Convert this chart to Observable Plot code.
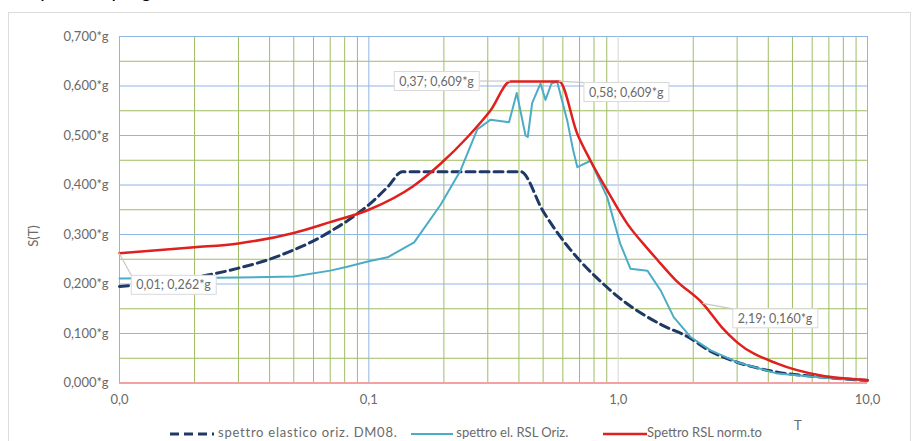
<!DOCTYPE html>
<html><head><meta charset="utf-8">
<script src="https://cdn.jsdelivr.net/npm/d3@7"></script>
<script src="https://cdn.jsdelivr.net/npm/@observablehq/plot@0.6"></script>
<style>
body{margin:0;background:#fff;font-family:Lato,"Open Sans",sans-serif;}
#wrap{position:relative;width:913px;height:441px;overflow:hidden;}
#frame{position:absolute;left:8px;top:12px;width:903px;height:440px;border:1px solid #dcdcdc;box-sizing:border-box;}
#toptext{position:absolute;left:27px;top:-20px;font:20px "Liberation Sans",Arial,sans-serif;line-height:20px;color:#000;white-space:nowrap;}
.lbl{position:absolute;color:#6a6a6a;font-size:13px;white-space:nowrap;line-height:14px;}
#chart{position:absolute;left:0;top:0;}
</style></head>
<body><div id="wrap">
<div id="toptext">Spettri di progetto</div>
<div id="frame"></div>
<div id="chart"></div>
<div class="lbl" style="left:33px;top:236px;transform:translate(-50%,-50%) rotate(-90deg);">S(T)</div>
<div class="lbl" style="left:794px;top:418px;">T</div>
<div class="lbl" style="left:170px;top:425px;letter-spacing:0.75px;"><svg width="44" height="10" style="vertical-align:middle"><line x1="0" x2="44" y1="5" y2="5" stroke="#1f3864" stroke-width="3" stroke-dasharray="9,5"/></svg> spettro elastico oriz. DM08.</div>
<div class="lbl" style="left:411px;top:425px;"><svg width="42" height="10" style="vertical-align:middle"><line x1="0" x2="42" y1="5" y2="5" stroke="#4bacc6" stroke-width="2"/></svg> spettro el. RSL Oriz.</div>
<div class="lbl" style="left:603px;top:425px;"><svg width="44" height="10" style="vertical-align:middle"><line x1="0" x2="44" y1="5" y2="5" stroke="#e0201e" stroke-width="2.5"/></svg>Spettro RSL norm.to</div>
</div>
<script>
// Data (T in s, Sa in g)
const T_dm08 = [0.01,0.02,0.03,0.04,0.05,0.06,0.07,0.08,0.09,0.1,0.12,0.136,0.406,0.5,0.587,0.7,0.877,1.0,1.5,1.89,2.35,3.0,4.35,6.9,10];
const v_dm08 = [0.195,0.213,0.232,0.250,0.269,0.287,0.306,0.324,0.342,0.360,0.398,0.427,0.427,0.347,0.295,0.248,0.199,0.174,0.117,0.094,0.064,0.042,0.022,0.011,0.005];

const T_rsl = [0.01,0.02,0.03,0.05,0.07,0.082,0.1,0.119,0.152,0.194,0.233,0.272,0.308,0.365,0.392,0.425,0.434,0.452,0.488,0.511,0.540,0.569,0.625,0.660,0.686,0.775,0.904,1.02,1.12,1.31,1.48,1.67,1.95,2.35,3.0,4.35,6.9,10];
const v_rsl = [0.211,0.212,0.213,0.215,0.227,0.235,0.246,0.254,0.284,0.360,0.429,0.512,0.532,0.527,0.586,0.500,0.497,0.566,0.605,0.572,0.605,0.609,0.530,0.470,0.436,0.449,0.375,0.281,0.231,0.227,0.187,0.133,0.093,0.066,0.042,0.019,0.010,0.005];

const T_norm = [0.01,0.02,0.03,0.05,0.07,0.1,0.15,0.194,0.249,0.308,0.37,0.58,0.686,0.775,0.904,1.087,1.309,1.435,1.7,2.19,2.6,3.0,4.35,6.5,10];
const v_norm = [0.262,0.274,0.282,0.303,0.325,0.350,0.397,0.443,0.497,0.551,0.609,0.609,0.503,0.449,0.389,0.322,0.272,0.249,0.208,0.160,0.113,0.082,0.039,0.015,0.006];

const annT = [0.37,0.58,0.01,2.19];
const annV = [0.609,0.609,0.262,0.160];

const xTicks = [0.01,0.1,1,10];
const xTickLabels = ["0,0","0,1","1,0","10,0"];
const yTicks = [0,0.1,0.2,0.3,0.4,0.5,0.6,0.7];
const yTickLabels = ["0,000*g","0,100*g","0,200*g","0,300*g","0,400*g","0,500*g","0,600*g","0,700*g"];
const yMinor = [0.05,0.15,0.25,0.35,0.45,0.55,0.65];
const xMinor = [0.02,0.03,0.04,0.05,0.06,0.07,0.08,0.09,0.2,0.3,0.4,0.5,0.6,0.7,0.8,0.9,2,3,4,5,6,7,8,9];

const mk = (T, v) => T.map((t, i) => ({T: t, v: v[i]}));
const dm08 = mk(T_dm08, v_dm08), rsl = mk(T_rsl, v_rsl), norm = mk(T_norm, v_norm);

const annOffsets = [[-74,0],[67,11],[54,32],[72,15]];
const f2 = d3.format(".2f"), f3 = d3.format(".3f");
const annLabel = (t, v) => `${f2(t).replace(".", ",")}; ${f3(v).replace(".", ",")}*g`;

const OLIVE = "#9fbd62", BLUE = "#8fb5e3";

const annMarks = annT.map((t, i) => Plot.text([{T: t, v: annV[i]}], {
  x: "T", y: "v", text: d => annLabel(d.T, d.v),
  dx: annOffsets[i][0], dy: annOffsets[i][1],
  fill: "#6a6a6a", fontSize: 12.5, className: "ann ann" + i
}));

const chart = Plot.plot({
  width: 913, height: 441,
  marginLeft: 119, marginRight: 46, marginTop: 36, marginBottom: 58.5,
  style: {fontFamily: "Lato, 'Open Sans', sans-serif", fontSize: "13px", color: "#6a6a6a", background: "transparent"},
  x: {type: "log", domain: [0.01, 10]},
  y: {domain: [0, 0.7]},
  marks: [
    Plot.ruleX(xMinor, {stroke: OLIVE, strokeWidth: 1}),
    Plot.ruleY(yMinor, {stroke: OLIVE, strokeWidth: 1}),
    Plot.ruleY(yTicks.filter(d => d > 0), {stroke: BLUE, strokeWidth: 1}),
    Plot.ruleX([0.01, 0.1, 10], {stroke: BLUE, strokeWidth: 1}),
    Plot.ruleX([1], {stroke: "#d6d6d6", strokeWidth: 1}),
    Plot.ruleY([0], {stroke: "#f2a2a2", strokeWidth: 2}),
    Plot.line(dm08, {x: "T", y: "v", stroke: "#1f3864", strokeWidth: 3, strokeDasharray: "9,5", curve: "monotone-x"}),
    Plot.line(rsl, {x: "T", y: "v", stroke: "#4bacc6", strokeWidth: 2}),
    Plot.line(norm, {x: "T", y: "v", stroke: "#e0201e", strokeWidth: 2.5, curve: "monotone-x"}),
    ...annMarks,
    Plot.axisX({ticks: xTicks, tickFormat: d => xTickLabels[xTicks.indexOf(d)], tickSize: 0, tickPadding: 12, label: null}),
    Plot.axisY({ticks: yTicks, tickFormat: d => yTickLabels[yTicks.indexOf(d)], tickSize: 0, tickPadding: 11, label: null, style: {letterSpacing: "0.5px"}})
  ]
});
document.getElementById("chart").appendChild(chart);

// callout boxes and leader lines around the annotation texts
const xs = chart.scale("x"), ys = chart.scale("y");
const ns = "http://www.w3.org/2000/svg";
const svgR = chart.getBoundingClientRect();
annT.forEach((t, i) => {
  const g = chart.querySelector("g.ann" + i);
  if (!g) return;
  const txt = g.querySelector("text");
  const r = txt.getBoundingClientRect();
  const rx = r.left - svgR.left - 5, ry = r.top - svgR.top - 2, rw = r.width + 10, rh = r.height + 4;
  const px = xs.apply(t), py = ys.apply(annV[i]);
  const cx = Math.max(rx, Math.min(rx + rw, px)), cy = Math.max(ry, Math.min(ry + rh, py));
  const box = document.createElementNS(ns, "g");
  const line = document.createElementNS(ns, "line");
  line.setAttribute("x1", px); line.setAttribute("y1", py);
  line.setAttribute("x2", cx); line.setAttribute("y2", cy);
  line.setAttribute("stroke", "#c8c8c8"); line.setAttribute("stroke-width", "1.2");
  const rect = document.createElementNS(ns, "rect");
  rect.setAttribute("x", rx); rect.setAttribute("y", ry);
  rect.setAttribute("width", rw); rect.setAttribute("height", rh);
  rect.setAttribute("fill", "#fff"); rect.setAttribute("stroke", "#d9d9d9");
  box.appendChild(line); box.appendChild(rect);
  g.parentNode.insertBefore(box, g);
});
</script>
</body></html>
